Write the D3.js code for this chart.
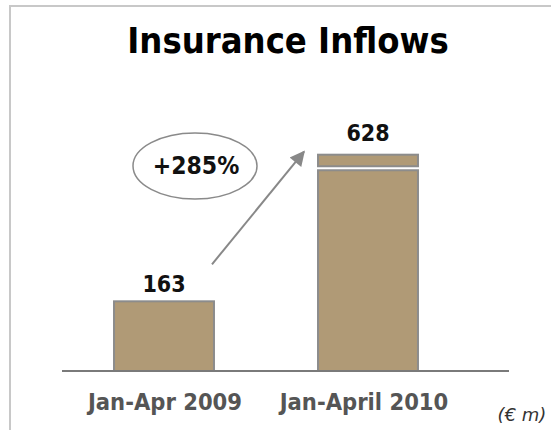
<!DOCTYPE html>
<html>
<head>
<meta charset="utf-8">
<script src="https://cdn.jsdelivr.net/npm/d3@7"></script>
<style>
  html, body { margin: 0; padding: 0; background: #fff; }
  svg { display: block; }
</style>
</head>
<body>
<svg id="chart" width="551" height="430"></svg>
<script>
// Insurance inflows, € m
const categories = ["Jan-Apr 2009", "Jan-April 2010"];
const baseValues = [163, 585];   // lower block of each bar
const capValues = [0, 43];       // separate top block (2010 only)
const totals = [163, 628];
const growthLabel = "+285%";
const unitLabel = "(€ m)";
const titleText = "Insurance Inflows";

const W = 551, H = 430;
const svg = d3.select("#chart");
const FONT = "'DejaVu Sans Condensed', 'DejaVu Sans', sans-serif";
const FILL = "#b09a76", EDGE = "#8c8c8c";

// frame (top and left edges)
svg.append("path")
  .attr("d", `M10,${H} L10,6 L${W},6`)
  .attr("fill", "none").attr("stroke", "#c8c8c8").attr("stroke-width", 2);

svg.append("text")
  .attr("x", 288).attr("y", 53)
  .attr("text-anchor", "middle")
  .attr("font-family", FONT).attr("font-weight", "bold").attr("font-size", 36)
  .attr("fill", "#000")
  .text(titleText);

const x = d3.scaleBand().domain(categories)
  .range([62, 470]).paddingInner(0.51).paddingOuter(0.255);
const y = d3.scaleLinear().domain([-58, 700]).range([371, 132]);
const base = y.range()[0];

const rows = categories.map((c, i) => ({ c, base: baseValues[i], cap: capValues[i], total: totals[i] }));

const gap = 2;
const g = svg.append("g");

// lower blocks
g.selectAll("rect.base").data(rows).join("rect")
  .attr("class", "base")
  .attr("x", d => x(d.c))
  .attr("width", x.bandwidth())
  .attr("y", d => y(d.base) + (d.cap > 0 ? gap : 0))
  .attr("height", d => base - y(d.base) - (d.cap > 0 ? gap : 0))
  .attr("fill", FILL).attr("stroke", EDGE).attr("stroke-width", 2);

// top blocks
g.selectAll("rect.cap").data(rows.filter(d => d.cap > 0)).join("rect")
  .attr("class", "cap")
  .attr("x", d => x(d.c))
  .attr("width", x.bandwidth())
  .attr("y", d => y(d.base + d.cap))
  .attr("height", d => y(d.base) - gap - y(d.base + d.cap))
  .attr("fill", FILL).attr("stroke", EDGE).attr("stroke-width", 2);

// baseline
svg.append("line")
  .attr("x1", 62).attr("x2", 509).attr("y1", base).attr("y2", base)
  .attr("stroke", "#7a7a7a").attr("stroke-width", 2);

// value labels
svg.selectAll("text.val").data(rows).join("text")
  .attr("class", "val")
  .attr("x", d => x(d.c) + x.bandwidth() / 2)
  .attr("y", d => y(d.total) - (d.cap > 0 ? 14 : 9))
  .attr("text-anchor", "middle")
  .attr("font-family", FONT).attr("font-weight", "bold").attr("font-size", 23)
  .attr("fill", "#111")
  .text(d => d.total);

// category labels
svg.selectAll("text.cat").data(rows).join("text")
  .attr("class", "cat")
  .attr("x", (d, i) => x(d.c) + x.bandwidth() / 2 + (i === 0 ? 1 : -4))
  .attr("y", 410)
  .attr("text-anchor", "middle")
  .attr("font-family", FONT).attr("font-weight", "bold").attr("font-size", 23.5)
  .attr("fill", "#555")
  .text(d => d.c);

// unit note
svg.append("text")
  .attr("x", 522).attr("y", 421)
  .attr("text-anchor", "middle")
  .attr("font-family", "'DejaVu Sans', sans-serif").attr("font-style", "italic")
  .attr("font-size", 18).attr("fill", "#333")
  .text(unitLabel);

// growth arrow
svg.append("defs").append("marker")
  .attr("id", "head").attr("viewBox", "0 0 10 10")
  .attr("refX", 9).attr("refY", 5)
  .attr("markerWidth", 9).attr("markerHeight", 7.5)
  .attr("markerUnits", "strokeWidth")
  .attr("orient", "auto")
  .append("path").attr("d", "M0,0 L10,5 L0,10 Z").attr("fill", "#888");

const c0 = x(categories[0]) + x.bandwidth() / 2;
const c1 = x(categories[1]) + x.bandwidth() / 2;
svg.append("line")
  .attr("x1", c0 + 48).attr("y1", y(totals[0]) - 37)
  .attr("x2", c1 - 64).attr("y2", y(totals[1]) - 3)
  .attr("stroke", "#888").attr("stroke-width", 2)
  .attr("marker-end", "url(#head)");

// growth bubble
svg.append("ellipse")
  .attr("cx", 195).attr("cy", 166).attr("rx", 62).attr("ry", 33)
  .attr("fill", "none").attr("stroke", "#8a8a8a").attr("stroke-width", 1.5);
svg.append("text")
  .attr("x", 196).attr("y", 174)
  .attr("text-anchor", "middle")
  .attr("font-family", FONT).attr("font-weight", "bold").attr("font-size", 24.5)
  .attr("fill", "#111")
  .text(growthLabel);
</script>
</body>
</html>
